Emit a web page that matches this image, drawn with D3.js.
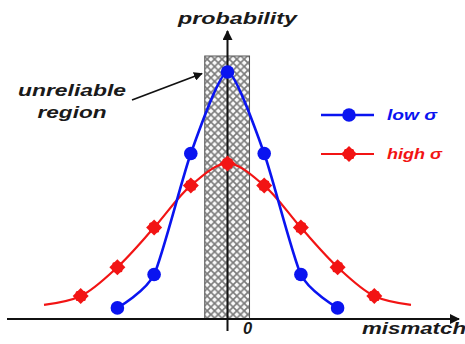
<!DOCTYPE html>
<html>
<head>
<meta charset="utf-8">
<script src="https://cdn.jsdelivr.net/npm/d3@7/dist/d3.min.js"></script>
<style>
  html, body { margin: 0; padding: 0; background: #fff; }
  svg { display: block; }
  text { font-family: "Liberation Sans", Arial, sans-serif; font-weight: bold; font-style: italic; }
</style>
</head>
<body>
<svg id="chart" width="465" height="344"></svg>
<script>
// Mismatch positions (in sigma-steps) and relative probability for each distribution
const lowX  = [-3, -2, -1, 0, 1, 2, 3];
const lowY  = [0.045, 0.18, 0.67, 1.0, 0.67, 0.18, 0.045];
const highX = [-5, -4, -3, -2, -1, 0, 1, 2, 3, 4, 5];
const highY = [0.057, 0.093, 0.21, 0.37, 0.54, 0.63, 0.54, 0.37, 0.21, 0.093, 0.057];
// Markers are shown for these mismatch positions of the wide distribution
const highMarkerX = [-4, -3, -2, -1, 0, 1, 2, 3, 4];
// Extent of the unreliable region around zero mismatch
const unreliable = [-0.62, 0.6];
const legendLabels = ["low σ", "high σ"];
const axisLabels = { x: "mismatch", y: "probability", zero: "0" };

const svg = d3.select("#chart");
const x = d3.scaleLinear().domain([-6, 6]).range([7.3, 447.7]);
const y = d3.scaleLinear().domain([0, 1]).range([319, 72]);

const BLUE = "#0a14f0", RED = "#f21414";

// cross-hatch fill for the unreliable band
const W = 7.4;
const defs = svg.append("defs");
const pat = defs.append("pattern")
  .attr("id", "hatch").attr("patternUnits", "userSpaceOnUse")
  .attr("width", W).attr("height", W);
pat.append("rect").attr("width", W).attr("height", W).attr("fill", "#fbfbfb");
pat.append("path").attr("d", `M-1,-1 L${W + 1},${W + 1} M-1,${W + 1} L${W + 1},-1`)
  .attr("stroke", "#7a7a7a").attr("stroke-width", 1.6).attr("fill", "none");

defs.append("marker").attr("id", "arrow").attr("viewBox", "0 0 10 10")
  .attr("refX", 9).attr("refY", 5).attr("markerWidth", 5).attr("markerHeight", 5)
  .attr("orient", "auto").attr("markerUnits", "strokeWidth")
  .append("path").attr("d", "M0,0 L10,5 L0,10 z").attr("fill", "#111");

svg.append("rect")
  .attr("x", x(unreliable[0])).attr("y", 56)
  .attr("width", x(unreliable[1]) - x(unreliable[0]))
  .attr("height", y(0) - 56)
  .attr("fill", "url(#hatch)").attr("stroke", "#555").attr("stroke-width", 1);

// axes
svg.append("line").attr("x1", 7).attr("x2", 459).attr("y1", y(0)).attr("y2", y(0))
  .attr("stroke", "#111").attr("stroke-width", 2).attr("marker-end", "url(#arrow)");
svg.append("line").attr("x1", x(0)).attr("x2", x(0)).attr("y1", 331).attr("y2", 31)
  .attr("stroke", "#111").attr("stroke-width", 2).attr("marker-end", "url(#arrow)");

// curves
const lowLine = d3.line().x(d => x(d[0])).y(d => y(d[1])).curve(d3.curveCardinal.tension(0.35));
const highLine = d3.line().x(d => x(d[0])).y(d => y(d[1])).curve(d3.curveCatmullRom.alpha(0.5));
const lowPts = lowX.map((v, i) => [v, lowY[i]]);
const highPts = highX.map((v, i) => [v, highY[i]]);

svg.append("path").attr("d", highLine(highPts)).attr("fill", "none")
  .attr("stroke", RED).attr("stroke-width", 2.2);
svg.append("path").attr("d", lowLine(lowPts)).attr("fill", "none")
  .attr("stroke", BLUE).attr("stroke-width", 2.6);

function redMark(g, cx, cy) {
  g.append("path")
    .attr("d", `M${cx},${cy - 8} L${cx + 8},${cy} L${cx},${cy + 8} L${cx - 8},${cy} Z`)
    .attr("fill", RED);
  g.append("rect").attr("x", cx - 5).attr("y", cy - 5).attr("width", 10).attr("height", 10)
    .attr("rx", 1.5).attr("fill", RED);
}

const highMarks = svg.append("g");
highPts.filter(p => highMarkerX.includes(p[0])).forEach(p => redMark(highMarks, x(p[0]), y(p[1])));

svg.append("g").selectAll("circle").data(lowPts).join("circle")
  .attr("cx", d => x(d[0])).attr("cy", d => y(d[1])).attr("r", 6.8).attr("fill", BLUE);

// annotation
svg.append("line").attr("x1", 132).attr("y1", 100).attr("x2", 202).attr("y2", 73.5)
  .attr("stroke", "#111").attr("stroke-width", 1.8).attr("marker-end", "url(#arrow)");
svg.append("text").attr("x", 72).attr("y", 96).attr("text-anchor", "middle")
  .attr("font-size", 17).attr("fill", "#1a1a1a")
  .attr("textLength", 108).attr("lengthAdjust", "spacingAndGlyphs").text("unreliable");
svg.append("text").attr("x", 72).attr("y", 118).attr("text-anchor", "middle")
  .attr("font-size", 17).attr("fill", "#1a1a1a")
  .attr("textLength", 69).attr("lengthAdjust", "spacingAndGlyphs").text("region");

// axis labels
svg.append("text").attr("x", 237.5).attr("y", 24).attr("text-anchor", "middle")
  .attr("font-size", 16.5).attr("fill", "#1a1a1a")
  .attr("textLength", 119).attr("lengthAdjust", "spacingAndGlyphs").text(axisLabels.y);
svg.append("text").attr("x", 362).attr("y", 334)
  .attr("font-size", 16.5).attr("fill", "#1a1a1a")
  .attr("textLength", 104).attr("lengthAdjust", "spacingAndGlyphs").text(axisLabels.x);
svg.append("text").attr("x", 247.5).attr("y", 334).attr("text-anchor", "middle")
  .attr("font-size", 16.5).attr("fill", "#1a1a1a").text(axisLabels.zero);

// legend
const leg = svg.append("g");
leg.append("line").attr("x1", 321).attr("x2", 374).attr("y1", 115).attr("y2", 115)
  .attr("stroke", BLUE).attr("stroke-width", 2.6);
leg.append("circle").attr("cx", 349).attr("cy", 115).attr("r", 6.8).attr("fill", BLUE);
leg.append("text").attr("x", 387).attr("y", 120).attr("font-size", 14).attr("fill", BLUE)
  .attr("textLength", 50).attr("lengthAdjust", "spacingAndGlyphs").text(legendLabels[0]);
leg.append("line").attr("x1", 321).attr("x2", 374).attr("y1", 154).attr("y2", 154)
  .attr("stroke", RED).attr("stroke-width", 2.2);
redMark(leg, 349, 154);
leg.append("text").attr("x", 387).attr("y", 159).attr("font-size", 14).attr("fill", RED)
  .attr("textLength", 55).attr("lengthAdjust", "spacingAndGlyphs").text(legendLabels[1]);
</script>
</body>
</html>
